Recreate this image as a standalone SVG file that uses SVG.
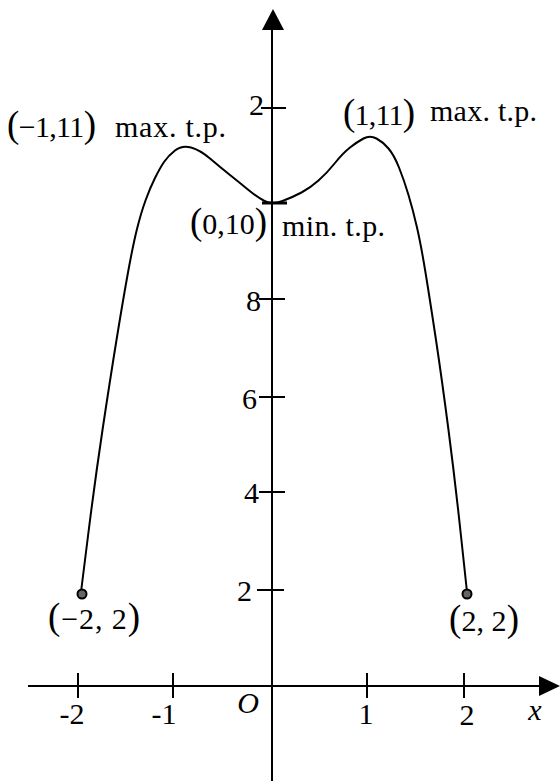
<svg xmlns="http://www.w3.org/2000/svg" width="560" height="781" viewBox="0 0 560 781">
<style>
.ax{stroke:#000;stroke-width:2;fill:none}
.tk{stroke:#000;stroke-width:2}
.cv{stroke:#000;stroke-width:2;fill:none;stroke-linejoin:round;stroke-linecap:round}
.num{font-family:"Liberation Serif","Times New Roman",serif;font-size:30px;fill:#000}
.wd{font-family:"Liberation Serif","Times New Roman",serif;font-size:30px;fill:#000}
.par{font-size:37px}
.it{font-family:"Liberation Serif","Times New Roman",serif;font-size:30px;font-style:italic;fill:#000}
.dot{fill:#666;stroke:#000;stroke-width:2}
</style>
<g id="connectors">
<line id="x-axis" class="ax" x1="28" y1="686" x2="540" y2="686"/>
<path d="M539,676 L560,686 L539,696 Z" fill="#000"/>
<line id="y-axis" class="ax" x1="272" y1="781" x2="272" y2="28"/>
<path d="M262,30 L273,9 L284,30 Z" fill="#000"/>
</g>
<g id="ticks">
<line class="tk" x1="78" y1="673" x2="78" y2="698"/>
<line class="tk" x1="173" y1="673" x2="173" y2="698"/>
<line class="tk" x1="367" y1="673" x2="367" y2="698"/>
<line class="tk" x1="464" y1="673" x2="464" y2="698"/>
<line class="tk" x1="257" y1="590" x2="284" y2="590"/>
<line class="tk" x1="259" y1="492" x2="285" y2="492"/>
<line class="tk" x1="259" y1="397" x2="285" y2="397"/>
<line class="tk" x1="259" y1="299" x2="285" y2="299"/>
<line class="tk" x1="261" y1="108" x2="286" y2="108"/>
</g>
<g id="tick-labels">
<text class="num" x="252" y="601" text-anchor="end">2</text>
<text class="num" x="259" y="503" text-anchor="end">4</text>
<text class="num" x="257" y="409" text-anchor="end">6</text>
<text class="num" x="261" y="311" text-anchor="end">8</text>
<text class="num" x="264" y="115" text-anchor="end">2</text>
<text class="num" x="72" y="724" text-anchor="middle">-2</text>
<text class="num" x="164" y="724" text-anchor="middle">-1</text>
<text class="num" x="366" y="724" text-anchor="middle">1</text>
<text class="num" x="467" y="725" text-anchor="middle">2</text>
<text class="it" x="248" y="713" text-anchor="middle">O</text>
<text class="it" x="535" y="720" text-anchor="middle">x</text>
</g>
<g id="curve">
<path class="cv" d="M81,592 L88,536 Q95,480 102.5,430 Q110,380 116.5,340 Q123,300 128,272.5 Q133,245 137,229 Q141,213 145.5,200.5 Q150,188 155,178 Q160,168 164,162 Q168,156 175,150.5 Q182,145 191,147.5 Q200,150 210,158.5 Q220,167 230,175 Q240,183 248.5,190 Q257,197 264.5,201 Q272,205 282.5,201 Q293,197 301.5,192.5 Q310,188 318.5,180.5 Q327,173 335,163 Q343,153 350,147.5 Q357,142 363.5,138.5 Q370,135 376.5,138.5 Q383,142 388.5,148.5 Q394,155 399,167.5 Q404,180 408.5,195 Q413,210 417,227.5 Q421,245 425.5,272.5 Q430,300 436,340 Q442,380 448.5,430 Q455,480 461,536 L467,592"/>
<line x1="262" y1="203" x2="287" y2="203" stroke="#000" stroke-width="3"/>
</g>
<g id="point-left-end">
<circle class="dot" cx="82" cy="594" r="4.5"/>
<text class="num" x="48" y="629" textLength="92" lengthAdjust="spacing"><tspan class="par">(</tspan>−2, 2<tspan class="par">)</tspan></text>
</g>
<g id="point-right-end">
<circle class="dot" cx="467" cy="594" r="4.5"/>
<text class="num" x="449" y="631" textLength="70" lengthAdjust="spacing"><tspan class="par">(</tspan>2, 2<tspan class="par">)</tspan></text>
</g>
<g id="point-left-max">
<text class="num" x="7" y="137" textLength="89" lengthAdjust="spacing"><tspan class="par">(</tspan>−1,11<tspan class="par">)</tspan></text>
<text class="wd" x="115" y="137" textLength="111" lengthAdjust="spacing">max. t.p.</text>
</g>
<g id="point-right-max">
<text class="num" x="343" y="125" textLength="72" lengthAdjust="spacing"><tspan class="par">(</tspan>1,11<tspan class="par">)</tspan></text>
<text class="wd" x="430" y="121" textLength="107" lengthAdjust="spacing">max. t.p.</text>
</g>
<g id="point-min">
<text class="num" x="190" y="234" textLength="77" lengthAdjust="spacing"><tspan class="par">(</tspan>0,10<tspan class="par">)</tspan></text>
<text class="wd" x="282" y="236" textLength="103" lengthAdjust="spacing">min. t.p.</text>
</g>
</svg>
